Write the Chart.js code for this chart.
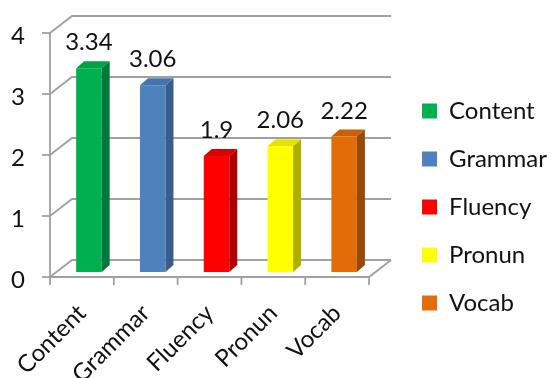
<!DOCTYPE html>
<html>
<head>
<meta charset="utf-8">
<title>Speaking scores</title>
<script src="https://cdn.jsdelivr.net/npm/chart.js@4/dist/chart.umd.min.js"></script>
<style>
  html, body { margin: 0; padding: 0; background: #ffffff; }
  canvas { display: block; }
</style>
</head>
<body>
<canvas id="chart" width="552" height="378"></canvas>
<script>
// Mean score per rubric criterion
const categories = ['Content', 'Grammar', 'Fluency', 'Pronun', 'Vocab'];
const scores = [3.34, 3.06, 1.9, 2.06, 2.22];
const yTicks = [0, 1, 2, 3, 4];

// Palette: front face, side face, top face
const frontColors = ['#00B050', '#4F81BD', '#FF0000', '#FFFF00', '#E36C09'];
const sideColors  = ['#00783A', '#385D8A', '#AE0000', '#AFAF00', '#984807'];
const topColors   = ['#00A249', '#4674AE', '#DC0000', '#E4E400', '#CC6008'];

const FONT = 'Lato';
const FONT_SIZE = 24;
const TEXT = '#111111';
const GRID = '#A0A0A0';

// Oblique projection: bar plane -> front edge / back wall, and bar depth
const FRONT = { dx: -7, dy: 5 };
const BACK  = { dx: 15, dy: -12 };
const BAR_DEPTH = { dx: 8, dy: -7 };

const walls = {
  id: 'walls',
  beforeDatasetsDraw(chart) {
    const { ctx, scales: { x, y } } = chart;
    const L = x.left, R = x.right;
    const y0 = y.getPixelForValue(0);
    const yTop = y.getPixelForValue(yTicks[yTicks.length - 1]);
    ctx.save();
    ctx.strokeStyle = GRID;
    ctx.lineWidth = 1.8;
    ctx.lineCap = 'butt';
    // side-wall diagonals and back-wall gridlines
    yTicks.forEach(v => {
      const py = y.getPixelForValue(v);
      ctx.beginPath();
      ctx.moveTo(L + FRONT.dx, py + FRONT.dy);
      ctx.lineTo(L + BACK.dx, py + BACK.dy);
      ctx.lineTo(R + BACK.dx, py + BACK.dy);
      ctx.stroke();
      // y tick mark
      ctx.beginPath();
      ctx.moveTo(L + FRONT.dx - 8, py + FRONT.dy);
      ctx.lineTo(L + FRONT.dx, py + FRONT.dy);
      ctx.stroke();
    });
    // front vertical axis
    ctx.beginPath();
    ctx.moveTo(L + FRONT.dx, yTop + FRONT.dy);
    ctx.lineTo(L + FRONT.dx, y0 + FRONT.dy);
    ctx.stroke();
    // floor front edge and right edge
    ctx.beginPath();
    ctx.moveTo(L + FRONT.dx, y0 + FRONT.dy);
    ctx.lineTo(R + FRONT.dx, y0 + FRONT.dy);
    ctx.lineTo(R + BACK.dx, y0 + BACK.dy);
    ctx.stroke();
    // category boundary ticks
    const n = categories.length;
    for (let i = 0; i <= n; i++) {
      const px = L + (R - L) * i / n + FRONT.dx;
      ctx.beginPath();
      ctx.moveTo(px, y0 + FRONT.dy);
      ctx.lineTo(px, y0 + FRONT.dy + 8);
      ctx.stroke();
    }
    ctx.restore();
  },
  afterDatasetsDraw(chart) {
    const { ctx } = chart;
    const meta = chart.getDatasetMeta(0);
    ctx.save();
    meta.data.forEach((bar, i) => {
      const { x, y, base, width } = bar.getProps(['x', 'y', 'base', 'width'], true);
      const xl = x - width / 2, xr = x + width / 2;
      // top face
      ctx.fillStyle = topColors[i];
      ctx.beginPath();
      ctx.moveTo(xl, y);
      ctx.lineTo(xr, y);
      ctx.lineTo(xr + BAR_DEPTH.dx, y + BAR_DEPTH.dy);
      ctx.lineTo(xl + BAR_DEPTH.dx, y + BAR_DEPTH.dy);
      ctx.closePath();
      ctx.fill();
      // side face
      ctx.fillStyle = sideColors[i];
      ctx.beginPath();
      ctx.moveTo(xr, y);
      ctx.lineTo(xr + BAR_DEPTH.dx, y + BAR_DEPTH.dy);
      ctx.lineTo(xr + BAR_DEPTH.dx, base + BAR_DEPTH.dy);
      ctx.lineTo(xr, base);
      ctx.closePath();
      ctx.fill();
      // value label
      ctx.fillStyle = TEXT;
      ctx.font = `${FONT_SIZE}px ${FONT}`;
      ctx.textAlign = 'center';
      ctx.textBaseline = 'alphabetic';
      ctx.fillText(String(scores[i]), x, y - 18);
    });
    ctx.restore();
  }
};

new Chart(document.getElementById('chart'), {
  type: 'bar',
  data: {
    labels: categories,
    datasets: [{
      label: 'Score',
      data: scores,
      backgroundColor: frontColors,
      borderWidth: 0,
      categoryPercentage: 1,
      barPercentage: 0.4
    }]
  },
  options: {
    responsive: false,
    devicePixelRatio: 1,
    animation: false,
    layout: { padding: { top: 28, left: 0, right: -5, bottom: -8 } },
    plugins: {
      tooltip: { enabled: false },
      legend: {
        position: 'right',
        align: 'center',
        maxWidth: 220,
        labels: {
          font: { family: FONT, size: FONT_SIZE },
          color: TEXT,
          boxWidth: 15,
          boxHeight: 15,
          padding: 24,
          generateLabels: () => categories.map((c, i) => ({
            text: c,
            fillStyle: frontColors[i],
            strokeStyle: frontColors[i],
            lineWidth: 0,
            hidden: false,
            index: i,
            fontColor: TEXT
          }))
        }
      }
    },
    scales: {
      x: {
        grid: { display: false, drawTicks: false },
        border: { display: false },
        ticks: {
          autoSkip: false,
          minRotation: 45,
          maxRotation: 45,
          padding: 27,
          labelOffset: -7,
          color: TEXT,
          font: { family: FONT, size: FONT_SIZE }
        },
        afterFit(scale) {
          scale.height = 114;
          scale.paddingLeft = 0;
          scale.paddingRight = 0;
        }
      },
      y: {
        min: 0,
        max: 4,
        grid: { display: false, drawTicks: false },
        border: { display: false },
        ticks: {
          stepSize: 1,
          padding: 32,
          labelOffset: 8,
          color: TEXT,
          font: { family: FONT, size: FONT_SIZE }
        },
        afterFit(scale) {
          scale.width = 57;
          scale.paddingTop = 0;
          scale.paddingBottom = 0;
        }
      },
      spacer: {
        position: 'right',
        display: true,
        grid: { display: false, drawTicks: false },
        border: { display: false },
        ticks: { display: false },
        afterFit(scale) {
          scale.width = 22;
          scale.paddingTop = 0;
          scale.paddingBottom = 0;
        }
      }
    }
  },
  plugins: [walls]
});
</script>
</body>
</html>
